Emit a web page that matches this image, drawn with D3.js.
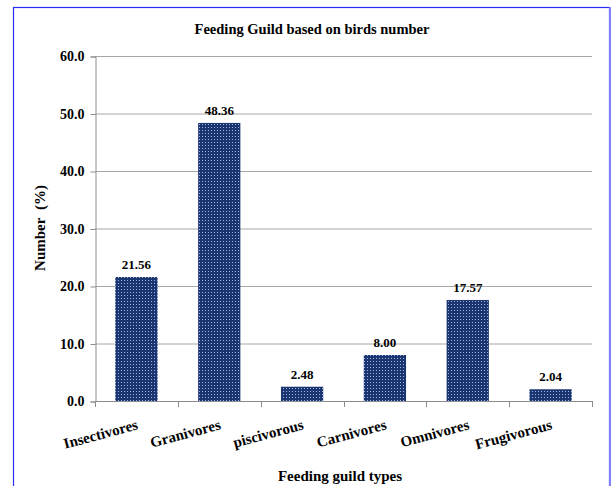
<!DOCTYPE html>
<html><head><meta charset="utf-8">
<script src="https://cdn.jsdelivr.net/npm/d3@7"></script>
<style>
html,body{margin:0;padding:0;background:#fff;}
svg{display:block;}
text{font-family:"Liberation Serif","Times New Roman",serif;font-weight:bold;fill:#000;}
</style></head>
<body>
<script>
const categories = ["Insectivores","Granivores","piscivorous","Carnivores","Omnivores","Frugivorous"];
const values = [21.56, 48.36, 2.48, 8.00, 17.57, 2.04];
const yTicks = [0,10,20,30,40,50,60];
const title = "Feeding Guild based on birds number";
const xTitle = "Feeding guild types";
const yTitle = "Number\u00a0\u00a0(%)";

const W = 614, H = 486;
const svg = d3.select("body").append("svg").attr("width", W).attr("height", H);

const defs = svg.append("defs");
const pat = defs.append("pattern").attr("id","dots").attr("patternUnits","userSpaceOnUse")
  .attr("width",3).attr("height",3);
pat.append("rect").attr("width",3).attr("height",3).attr("fill","#1b3570");
pat.append("rect").attr("x",1).attr("y",1).attr("width",1).attr("height",1).attr("fill","#9fb4e6");

// outer border
svg.append("rect").attr("x",13.5).attr("y",7.5).attr("width",596).attr("height",500)
  .attr("fill","none").attr("stroke","#2a2af5").attr("stroke-width",1.2);
svg.append("line").attr("x1",610).attr("x2",610).attr("y1",7).attr("y2",H)
  .attr("stroke","#8080ff").attr("stroke-width",2);

const x = d3.scaleBand().domain(categories).range([95, 592]).paddingInner(0.49).paddingOuter(0.245);
const y = d3.scaleLinear().domain([0,60]).range([401, 56]);

// gridlines
svg.append("g").selectAll("line").data(yTicks.filter(d=>d>0)).join("line")
  .attr("x1",95).attr("x2",592).attr("y1",d=>y(d)+0.5).attr("y2",d=>y(d)+0.5)
  .attr("stroke","#a6a6a6").attr("stroke-width",1);

// y axis
const yAxis = svg.append("g").attr("transform","translate(95.5,0.5)")
  .call(d3.axisLeft(y).tickValues(yTicks).tickFormat(d3.format(".1f")).tickSize(5).tickPadding(6));
yAxis.select(".domain").attr("stroke","#8c8c8c");
yAxis.selectAll(".tick line").attr("stroke","#8c8c8c");
yAxis.selectAll(".tick text").attr("font-size",14).attr("font-family","Liberation Serif").attr("font-weight","bold").attr("fill","#000");

// bars
svg.append("g").selectAll("rect").data(values).join("rect")
  .attr("x",(d,i)=>x(categories[i])).attr("width",x.bandwidth())
  .attr("y",d=>y(d)).attr("height",d=>y(0)-y(d))
  .attr("fill","url(#dots)");

// value labels
svg.append("g").selectAll("text").data(values).join("text")
  .attr("x",(d,i)=>x(categories[i])+x.bandwidth()/2).attr("y",d=>y(d)-8)
  .attr("text-anchor","middle").attr("font-size",13).text(d=>d.toFixed(2));

// x axis
const n = categories.length;
const bounds = d3.range(n+1).map(i=>x.range()[0] + i*(x.range()[1]-x.range()[0])/n);
const xg = svg.append("g");
xg.append("line").attr("x1",95).attr("x2",592).attr("y1",401.5).attr("y2",401.5).attr("stroke","#8c8c8c");
xg.selectAll("line.t").data(bounds).join("line").attr("class","t")
  .attr("x1",d=>Math.round(d)+0.5).attr("x2",d=>Math.round(d)+0.5).attr("y1",401).attr("y2",407)
  .attr("stroke","#8c8c8c");
xg.selectAll("text").data(categories).join("text")
  .attr("transform",d=>`translate(${x(d)+x.bandwidth()/2+1},${424}) rotate(-15)`)
  .attr("text-anchor","end").attr("font-size",15).attr("dy","0.35em").text(d=>d);

// titles
svg.append("text").attr("x",312).attr("y",34).attr("text-anchor","middle").attr("font-size",14.5).text(title);
svg.append("text").attr("x",340).attr("y",481).attr("text-anchor","middle").attr("font-size",15).text(xTitle);
svg.append("text").attr("transform","translate(45,228) rotate(-90)").attr("text-anchor","middle")
  .attr("font-size",15).text(yTitle);
</script>
</body></html>
